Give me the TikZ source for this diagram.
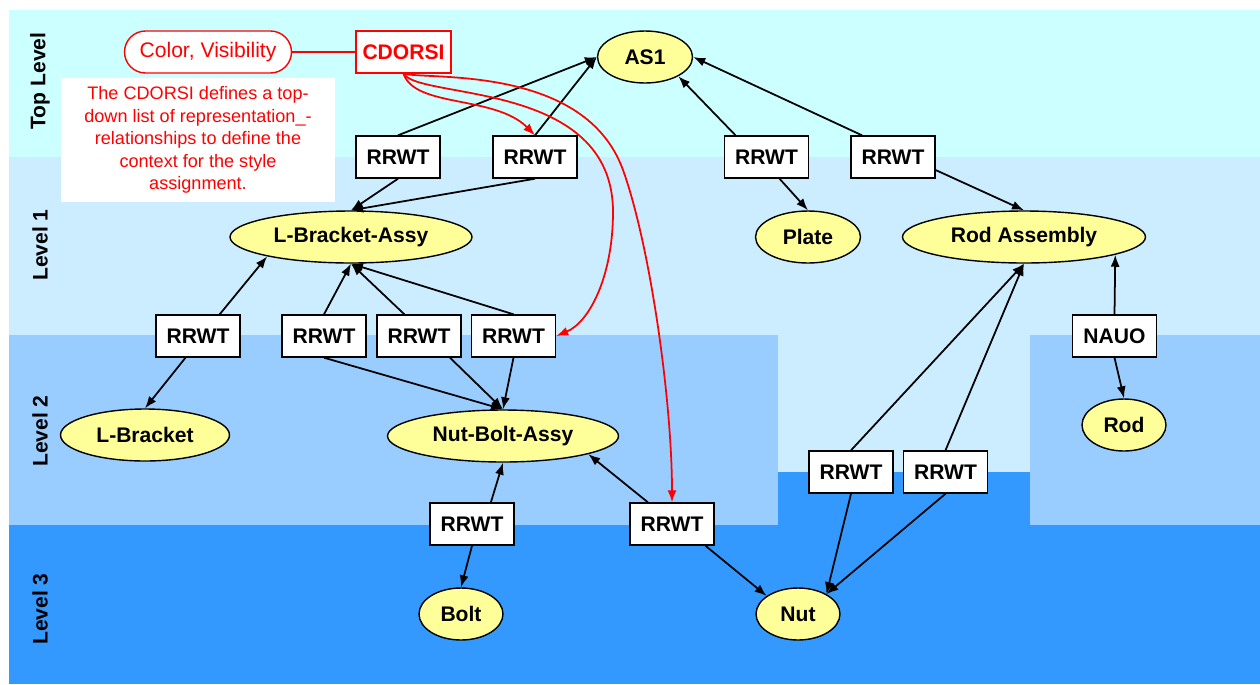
\documentclass[tikz,border=0pt]{standalone}
\usepackage{fontspec}
\setmainfont{Liberation Sans}
\usetikzlibrary{shapes.geometric, arrows.meta}
\definecolor{bandtop}{HTML}{CCFFFF}
\definecolor{bandone}{HTML}{CCECFF}
\definecolor{bandtwo}{HTML}{99CCFF}
\definecolor{bandthree}{HTML}{3399FF}
\definecolor{partfill}{HTML}{FFFF99}
\tikzset{
	part/.style = {ellipse, draw, line width=0.8pt, fill=partfill, inner sep=0pt, minimum height=1.04cm,
		font=\fontsize{12}{14}\selectfont\bfseries},
	rel/.style = {draw, line width=0.8pt, fill=white, inner sep=0pt, minimum width=1.68cm, minimum height=0.84cm,
		font=\fontsize{12}{14}\selectfont\bfseries},
	link/.style = {-{Latex[length=2.4mm, width=1.8mm]}, line width=1pt},
	ctx/.style = {-{Latex[length=2.4mm, width=1.8mm]}, red, line width=1pt},
	lvl/.style = {rotate=90, font=\fontsize{12}{14}\selectfont\bfseries}
}
\begin{document}
\begin{tikzpicture}[x = 0.02cm, y = -0.02cm]
	\useasboundingbox (0, 0) rectangle (1260, 684);
	% bands
	\fill[bandtop] (9, 10) rectangle (1260, 157);
	\fill[bandone] (9, 157) rectangle (1260, 684);
	\fill[bandthree] (9, 472) rectangle (1260, 684);
	\fill[bandtwo] (9, 335) rectangle (778, 525);
	\fill[bandtwo] (1030, 335) rectangle (1260, 525);
		\node[lvl] at (40, 81) {Top Level};
		\node[lvl] at (40, 245) {Level 1};
		\node[lvl] at (40, 431) {Level 2};
		\node[lvl] at (40, 609) {Level 3};
	% style context
	\node[draw = red, line width = 0.8pt, fill = white, text = red, rounded corners = 0.42cm, minimum width = 3.34cm,
		minimum height = 0.84cm, font = \fontsize{12}{14}\selectfont] (cv) at (208, 52) {Color, Visibility};
	\node[draw = red, line width = 0.8pt, fill = white, text = red, minimum width = 1.9cm, minimum height = 0.84cm,
		inner sep = 0pt, font = \fontsize{12}{14}\selectfont\bfseries] (cdorsi) at (403.5, 52) {CDORSI};
	\node[fill = white, text = red, minimum width = 5.48cm, minimum height = 2.48cm, align = center,
		font = \fontsize{10.3}{12.8}\selectfont] (note) at (198, 140)
		{The CDORSI defines a top-\\down list of representation\_-\\relationships to define the\\context for the style\\assignment.};
	% parts
	\node[part, minimum width = 1.9cm] (as1) at (645, 57) {AS1};
	\node[part, minimum width = 4.84cm] (lbassy) at (351, 237) {L-Bracket-Assy};
	\node[part, minimum width = 2.1cm] (plate) at (808, 237) {Plate};
	\node[part, minimum width = 4.86cm] (rodassy) at (1024, 237) {Rod Assembly};
	\node[part, minimum width = 3.38cm] (lbracket) at (145, 435) {L-Bracket};
	\node[part, minimum width = 4.62cm] (nbassy) at (503, 436) {Nut-Bolt-Assy};
	\node[part, minimum width = 1.68cm] (rod) at (1124, 425) {Rod};
	\node[part, minimum width = 1.68cm] (bolt) at (461, 614) {Bolt};
	\node[part, minimum width = 1.68cm] (nut) at (798, 614) {Nut};
	% relations
	\node[rel] (t1) at (398, 157) {RRWT};
	\node[rel] (t2) at (535, 157) {RRWT};
	\node[rel] (t3) at (766.5, 157) {RRWT};
	\node[rel] (t4) at (893, 157) {RRWT};
	\node[rel] (a) at (198, 336) {RRWT};
	\node[rel] (b) at (324, 336) {RRWT};
	\node[rel] (c) at (419, 336) {RRWT};
	\node[rel] (d) at (513.5, 336) {RRWT};
	\node[rel] (nauo) at (1114.5, 336) {NAUO};
	\node[rel] (e) at (851, 472) {RRWT};
	\node[rel] (f) at (945.5, 472) {RRWT};
	\node[rel] (g) at (472, 524) {RRWT};
	\node[rel] (h) at (672, 524) {RRWT};
	% links
	\draw[link] (t1.north) -- (as1.west);
	\draw[link] (t1.south) -- (lbassy.north);
	\draw[link] (t2.north) -- (as1.west);
	\draw[link] (t2.south) -- (lbassy.north);
	\draw[link] (t3.145) -- (as1.-30);
	\draw[link] (t3.-59) -- (plate.north);
	\draw[link] (t4.145) -- (as1.east);
	\draw[link] (t4.-17) -- (rodassy.north);
	\draw[link] (a.45) -- (lbassy.193);
	\draw[link] (a.-120) -- (lbracket.north);
	\draw[link] (b.north) -- (lbassy.south);
	\draw[link] (b.south) -- (nbassy.north);
	\draw[link] (c.124) -- (lbassy.south);
	\draw[link] (c.-35) -- (nbassy.north);
	\draw[link] (d.north) -- (lbassy.south);
	\draw[link] (d.south) -- (nbassy.north);
	\draw[link] (nauo.north) -- (rodassy.-11);
	\draw[link] (nauo.south) -- (rod.north);
	\draw[link] (e.north) -- (rodassy.south);
	\draw[link] (e.south) -- (nut.35);
	\draw[link] (f.north) -- (rodassy.south);
	\draw[link] (f.south) -- (nut.35);
	\draw[link] (g.49) -- (nbassy.south);
	\draw[link] (g.south) -- (bolt.north);
	\draw[link] (h.138) -- (nbassy.-12);
	\draw[link] (h.-33) -- (nut.150);
	% context curves
	\draw[red, line width = 1pt] (cv) -- (cdorsi);
	\coordinate (bendd) at (613, 212);
	\coordinate (bendh) at (623, 170);
	\draw[ctx] (cdorsi.south) .. controls (415, 108) and (495, 95) .. (t2.north);
	\draw[ctx] (cdorsi.south) .. controls (420, 100) and (613, 80) .. (bendd)
		.. controls (613, 275) and (590, 322) .. (d.east);
	\draw[ctx] (cdorsi.south) .. controls (430, 80) and (585, 65) .. (bendh)
		.. controls (650, 245) and (672, 400) .. (h.north);
\end{tikzpicture}
\end{document}
